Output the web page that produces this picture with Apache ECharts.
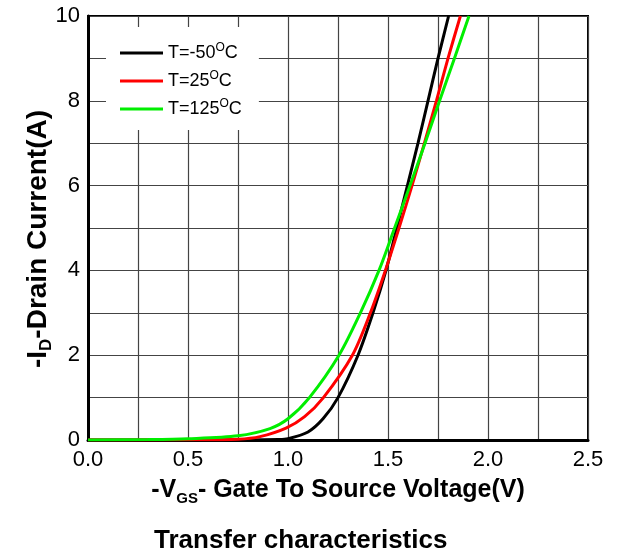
<!DOCTYPE html>
<html>
<head>
<meta charset="utf-8">
<script src="https://cdn.jsdelivr.net/npm/echarts@6/dist/echarts.min.js"></script>
<style>html,body{margin:0;padding:0;background:#fff;}#c{width:617px;height:560px;}</style>
</head>
<body>
<div id="c"></div>
<script>
var seriesNames = ['T=-50°C', 'T=25°C', 'T=125°C'];
var colors = ['#000000', '#ff0000', '#00ee00'];
var vgsM50 = [0, 0.8, 0.95, 1.0, 1.1, 1.175, 1.25, 1.35, 1.425, 1.49, 1.544, 1.597, 1.65, 1.70, 1.75, 1.803];
var idM50  = [0, 0, 0.01, 0.03, 0.19, 0.5, 1, 2, 3, 4, 5, 6, 7, 8, 9, 10];
var vgs25 = [0, 0.5, 0.75, 0.86, 0.99, 1.083, 1.177, 1.322, 1.412, 1.487, 1.555, 1.62, 1.682, 1.742, 1.80, 1.862];
var id25  = [0, 0.005, 0.02, 0.08, 0.28, 0.55, 1, 2, 3, 4, 5, 6, 7, 8, 9, 10];
var vgs125 = [0, 0.3, 0.5, 0.75, 0.91, 1.0, 1.107, 1.255, 1.362, 1.455, 1.533, 1.61, 1.685, 1.758, 1.832, 1.905];
var id125  = [0, 0.01, 0.03, 0.1, 0.27, 0.5, 1, 2, 3, 4, 5, 6, 7, 8, 9, 10];
var xTickLabels = ['0.0', '0.5', '1.0', '1.5', '2.0', '2.5'];
var yTickLabels = ['0', '2', '4', '6', '8', '10'];

function pairs(xs, ys) { return xs.map(function (x, i) { return [x, ys[i]]; }); }
var allData = [pairs(vgsM50, idM50), pairs(vgs25, id25), pairs(vgs125, id125)];

var FONT = 'Liberation Sans, Arial, sans-serif';
var chart = echarts.init(document.getElementById('c'), null, { renderer: 'canvas' });
chart.setOption({
  animation: false,
  backgroundColor: '#fff',
  title: {
    text: 'Transfer characteristics',
    left: 154, top: 528, padding: 0,
    textStyle: { fontFamily: FONT, fontSize: 26, fontWeight: 'bold', color: '#000' }
  },
  graphic: [{
    type: 'text',
    x: 38, y: 239,
    rotation: Math.PI / 2,
    style: {
      text: '{a|-I}{s|D}{a|-Drain Current(A)}',
      align: 'center', verticalAlign: 'middle',
      fontFamily: FONT, fontSize: 28, fontWeight: 'bold', fill: '#000',
      rich: {
        a: { fontFamily: FONT, fontSize: 28, fontWeight: 'bold', fill: '#000' },
        s: { fontFamily: FONT, fontSize: 17, fontWeight: 'bold', fill: '#000', padding: [17, 0, 0, 0] }
      }
    }
  }],
  grid: { left: 88, right: 29, top: 16, bottom: 120, show: true, borderColor: '#000', borderWidth: 2, backgroundColor: 'transparent' },
  legend: {
    left: 106, top: 27,
    orient: 'vertical',
    backgroundColor: '#fff',
    padding: [15, 17, 12, 14],
    icon: 'rect',
    itemWidth: 43, itemHeight: 3, itemGap: 8,
    data: seriesNames,
    formatter: function (name) {
      var p = name.split('°');
      return '{a|' + p[0] + '}{s|O}{a|' + p[1] + '}';
    },
    textStyle: {
      fontFamily: FONT, fontSize: 18, color: '#000',
      rich: {
        a: { fontFamily: FONT, fontSize: 18, color: '#000' },
        s: { fontFamily: FONT, fontSize: 12, color: '#000', padding: [0, 0, 10, 0] }
      }
    }
  },
  xAxis: {
    type: 'value', min: 0, max: 2.5, interval: 0.25,
    name: '{a|-V}{s|GS}{a|- Gate To Source Voltage(V)}',
    nameLocation: 'middle', nameGap: 35,
    nameTextStyle: {
      fontFamily: FONT, fontSize: 25, fontWeight: 'bold', color: '#000',
      rich: {
        a: { fontFamily: FONT, fontSize: 25, fontWeight: 'bold', color: '#000' },
        s: { fontFamily: FONT, fontSize: 15, fontWeight: 'bold', color: '#000', padding: [16, 0, 0, 0] }
      }
    },
    axisLine: { show: true, onZero: false, lineStyle: { color: '#000', width: 3 } },
    axisTick: { show: false },
    axisLabel: {
      margin: 9, fontFamily: FONT, fontSize: 22, color: '#000', showMaxLabel: true, showMinLabel: true,
      formatter: function (v) {
        var idx = Math.round(v / 0.5);
        return Math.abs(v - idx * 0.5) < 1e-6 ? xTickLabels[idx] : '';
      }
    },
    splitLine: { show: true, lineStyle: { color: '#444', width: 1.2 } }
  },
  yAxis: {
    type: 'value', min: 0, max: 10, interval: 1,
    axisLine: { show: true, onZero: false, lineStyle: { color: '#000', width: 3 } },
    axisTick: { show: false },
    axisLabel: {
      margin: 8, fontFamily: FONT, fontSize: 22, color: '#000',
      formatter: function (v) {
        var r = Math.round(v);
        return (r % 2 === 0) ? yTickLabels[r / 2] : '';
      }
    },
    splitLine: { show: true, lineStyle: { color: '#444', width: 1.2 } }
  },
  series: seriesNames.map(function (n, i) {
    return {
      name: n, type: 'line', data: allData[i],
      symbol: 'none', smooth: 0.3, clip: true,
      color: colors[i],
      lineStyle: { color: colors[i], width: 3 },
      z: 3 + i
    };
  })
});
</script>
</body>
</html>
